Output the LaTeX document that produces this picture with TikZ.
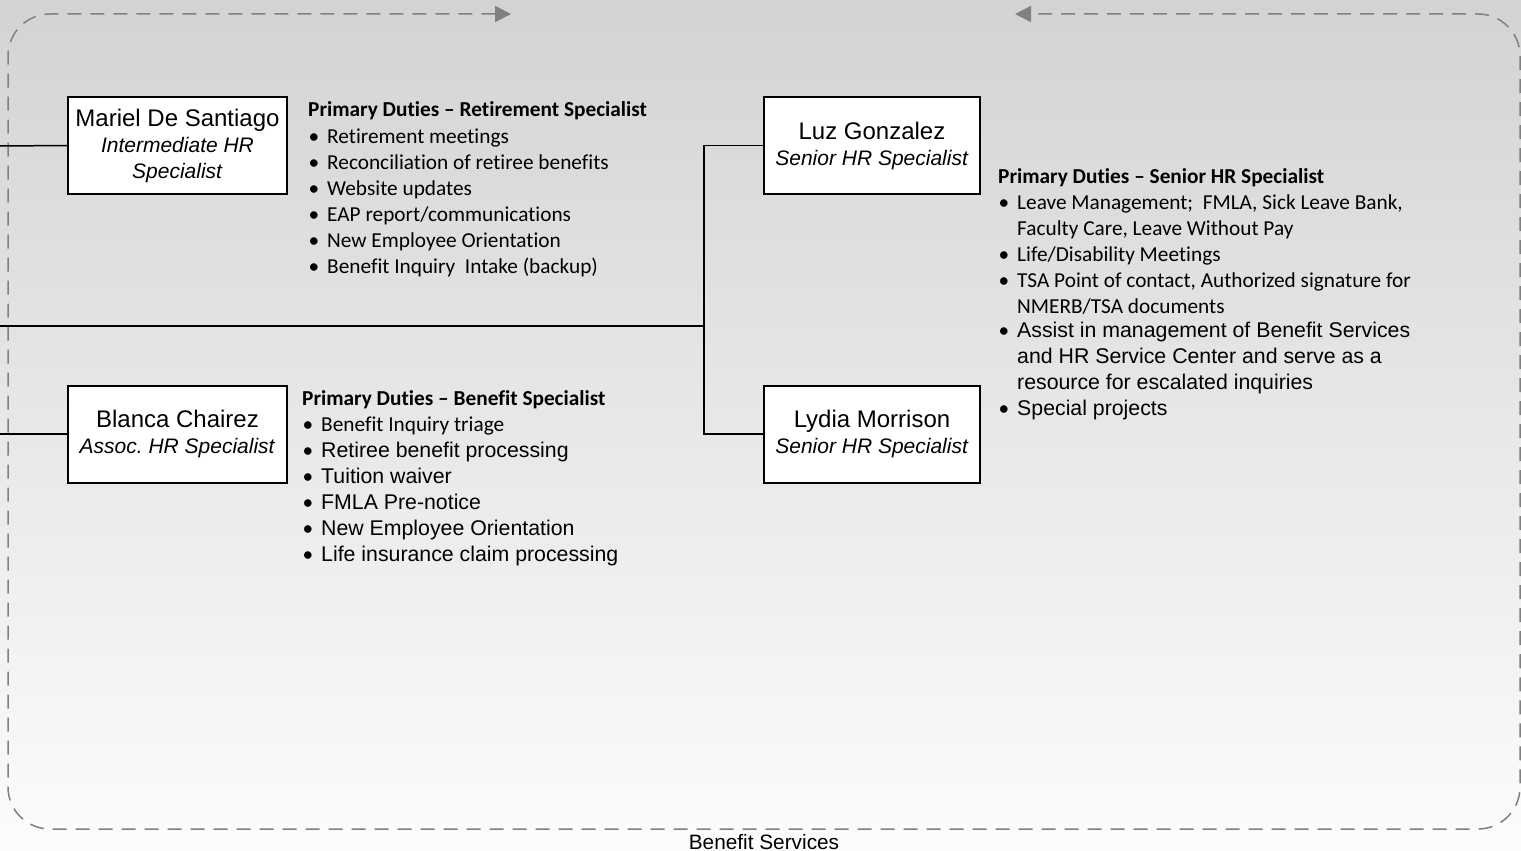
\documentclass[tikz,border=0pt]{standalone}
\usepackage{fontspec}
\setmainfont{Liberation Sans}
\newfontfamily\calfont[Ligatures={NoCommon}]{Carlito}
\newfontfamily\arfont{Liberation Sans}
\usetikzlibrary{arrows.meta}
\definecolor{bgtop}{RGB}{211,211,211}
\definecolor{bgbot}{RGB}{252,252,252}
\definecolor{framegray}{RGB}{128,128,128}
\frenchspacing
\tikzset{
  person/.style={draw=black, line width=2pt, fill=white, minimum width=219pt, minimum height=97pt,
    align=center, inner sep=0pt, font=\arfont\fontsize{21}{26}\selectfont},
  conn/.style={draw=black, line width=1.5pt},
  frameline/.style={draw=framegray, line width=1.5pt, dash pattern=on 14pt off 9pt,
    rounded corners=42pt, {Triangle[length=16pt,width=16pt]}-{Triangle[length=16pt,width=16pt]}},
  dhead/.style={anchor=base west, inner sep=0pt, font=\calfont\bfseries\fontsize{21.3}{24}\selectfont},
  dcal/.style={anchor=base west, inner sep=0pt, font=\calfont\fontsize{21.3}{24}\selectfont},
  dari/.style={anchor=base west, inner sep=0pt, font=\arfont\fontsize{21.3}{24}\selectfont},
  lbl/.style={inner sep=0pt, font=\arfont\fontsize{20.8}{24}\selectfont}
}
\newcommand{\bul}{\llap{{\calfont\fontsize{21.3}{24}\selectfont\textbullet}\hspace{8pt}}}
\begin{document}
\begin{tikzpicture}[x=1pt,y=-1pt]
\useasboundingbox (0,0) rectangle (1521,851);
\shade[top color=bgtop, bottom color=bgbot] (0,0) rectangle (1521,851);

% frame
\coordinate (fa) at (511,14);
\coordinate (ftl) at (8,14);
\coordinate (fbl) at (8,829);
\coordinate (fbr) at (1520,829);
\coordinate (ftr) at (1520,14);
\coordinate (fb) at (1015,14);
\draw[frameline] (fa) -- (ftl) -- (fbl) -- (fbr) -- (ftr) -- (fb);
\node[lbl] (title) at (764,842) {Benefit Services};

% boxes
\node[person] (mariel) at (177.5,145.5) {{\fontsize{24}{26}\selectfont Mariel De Santiago}\\\textit{Intermediate HR}\\\textit{Specialist}};
\node[person] (blanca) at (177.5,434) {{\fontsize{24}{26}\selectfont Blanca Chairez}\\\textit{Assoc. HR Specialist}};
\node[person, minimum width=216pt] (luz) at (872,145.5) {{\fontsize{24}{26}\selectfont Luz Gonzalez}\\\textit{Senior HR Specialist}};
\node[person, minimum width=216pt] (lydia) at (872,434) {{\fontsize{24}{26}\selectfont Lydia Morrison}\\\textit{Senior HR Specialist}};

% connectors
\coordinate (in1) at (0,146);
\coordinate (in2) at (0,326);
\coordinate (in3) at (0,434);
\coordinate (j) at (704,326);
\draw[conn] (in1) -- (mariel.west);
\draw[conn] (in3) -- (blanca.west);
\draw[conn] (in2) -- (j);
\draw[conn] (luz.west) -| (j) |- (lydia.west);

% retirement duties
\node[dhead] (rh) at (308,117) {Primary Duties – Retirement Specialist};
\node[dcal] (r1) at (327,143) {\bul Retirement meetings};
\node[dcal] (r2) at (327,169) {\bul Reconciliation of retiree benefits};
\node[dcal] (r3) at (327,195) {\bul Website updates};
\node[dcal] (r4) at (327,221) {\bul EAP report/communications};
\node[dcal] (r5) at (327,247) {\bul New Employee Orientation};
\node[dcal] (r6) at (327,273) {\bul Benefit Inquiry\ \ Intake (backup)};

% benefit duties
\node[dhead] (bh) at (302,405) {Primary Duties – Benefit Specialist};
\node[dcal] (b1) at (321,431) {\bul Benefit Inquiry triage};
\node[dari] (b2) at (321,457) {\bul Retiree benefit processing};
\node[dari] (b3) at (321,483) {\bul Tuition waiver};
\node[dari] (b4) at (321,509) {\bul FMLA Pre-notice};
\node[dari] (b5) at (321,535) {\bul New Employee Orientation};
\node[dari] (b6) at (321,561) {\bul Life insurance claim processing};

% senior duties
\node[dhead] (sh) at (998,183) {Primary Duties – Senior HR Specialist};
\node[dcal] (s1) at (1017,209) {\bul Leave Management;\ \ FMLA, Sick Leave Bank,};
\node[dcal] (s1b) at (1017,235) {Faculty Care, Leave Without Pay};
\node[dcal] (s2) at (1017,261) {\bul Life/Disability Meetings};
\node[dcal] (s3) at (1017,287) {\bul TSA Point of contact, Authorized signature for};
\node[dcal] (s3b) at (1017,313) {NMERB/TSA documents};
\node[dari] (s4) at (1017,337) {\bul Assist in management of Benefit Services};
\node[dari] (s4b) at (1017,363) {and HR Service Center and serve as a};
\node[dari] (s4c) at (1017,389) {resource for escalated inquiries};
\node[dari] (s5) at (1017,415) {\bul Special projects};
\end{tikzpicture}
\end{document}
